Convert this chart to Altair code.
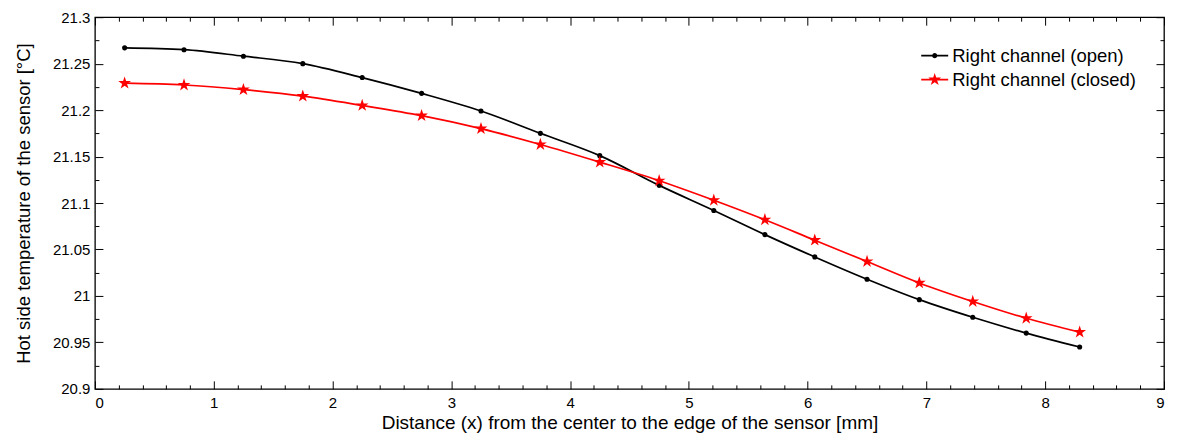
import math
import altair as alt
import pandas as pd

# ---- data ----
x_vals = [0.25, 0.75, 1.25, 1.75, 2.25, 2.75, 3.25, 3.75, 4.25, 4.75,
          5.21, 5.64, 6.06, 6.50, 6.94, 7.39, 7.84, 8.29]
open_vals = [21.267, 21.265, 21.258, 21.250, 21.235, 21.218, 21.199, 21.175, 21.151,
             21.119, 21.092, 21.066, 21.042, 21.018, 20.996, 20.977, 20.960, 20.945]
closed_vals = [21.229, 21.227, 21.222, 21.215, 21.205, 21.194, 21.180, 21.163, 21.144,
               21.124, 21.103, 21.082, 21.060, 21.037, 21.014, 20.994, 20.976, 20.961]
series_names = ["Right channel (open)", "Right channel (closed)"]
series_colors = ["#000000", "#ff0000"]

x_major = [0, 1, 2, 3, 4, 5, 6, 7, 8, 9]
x_minor = [round(i * 0.2, 1) for i in range(46) if i % 5 != 0]
y_major = [20.9, 20.95, 21.0, 21.05, 21.1, 21.15, 21.2, 21.25, 21.3]
y_minor = [20.925, 20.975, 21.025, 21.075, 21.125, 21.175, 21.225, 21.275]

rows = []
for xv, o, c in zip(x_vals, open_vals, closed_vals):
    rows.append({"x": xv, "y": o, "series": series_names[0]})
    rows.append({"x": xv, "y": c, "series": series_names[1]})
df = pd.DataFrame(rows)

FONT = "Liberation Sans"


def star_path(scale):
    pts = []
    for k in range(10):
        r = scale if k % 2 == 0 else scale * 0.382
        a = math.radians(-90 + 36 * k)
        pts.append(f"{r * math.cos(a):.3f},{r * math.sin(a):.3f}")
    return "M" + " L".join(pts) + " Z"


def circle_path(r):
    pts = []
    for k in range(16):
        a = math.radians(-90 + 22.5 * k)
        pts.append(f"{r * math.cos(a):.3f},{r * math.sin(a):.3f}")
    return "M" + " L".join(pts) + " Z"


STAR = star_path(1.0)
BAR = "M-1,-0.06 L1,-0.06 L1,0.06 L-1,0.06 Z"
LEG_OPEN = BAR + " " + circle_path(0.19)
LEG_CLOSED = BAR + " " + star_path(0.5)

xs = alt.Scale(domain=[0, 9], nice=False, zero=False)
ys = alt.Scale(domain=[20.9, 21.3], nice=False, zero=False)
cs = alt.Scale(domain=series_names, range=series_colors)
ss = alt.Scale(domain=series_names, range=[LEG_OPEN, LEG_CLOSED])


def tick_axis(orient, values, size):
    return alt.Axis(orient=orient, values=values, tickSize=size, offset=-size,
                    labels=False, domain=False, title=None, grid=False,
                    ticks=True, tickColor="black", tickWidth=1)


base = alt.Chart(df)
open_df = base.transform_filter(alt.datum.series == series_names[0])
closed_df = base.transform_filter(alt.datum.series == series_names[1])

main_x = alt.Axis(orient="bottom", values=x_major, format="d", ticks=False, domain=False,
                  grid=False, labelFont=FONT, labelFontSize=15, labelColor="black",
                  labelPadding=7, title="Distance (x) from the center to the edge of the sensor [mm]",
                  titleFont=FONT, titleFontSize=19, titleFontWeight="normal",
                  titleColor="black", titlePadding=3)
main_y = alt.Axis(orient="left", values=y_major, format="~g", ticks=False, domain=False,
                  grid=False, labelFont=FONT, labelFontSize=15, labelColor="black",
                  labelPadding=5, title="Hot side temperature of the sensor [°C]",
                  titleFont=FONT, titleFontSize=18.5, titleFontWeight="normal",
                  titleColor="black", titlePadding=19)

line_open = open_df.mark_line(interpolate="monotone", strokeWidth=1.7,
                              color=series_colors[0]).encode(
    x=alt.X("x:Q", scale=xs, axis=main_x),
    y=alt.Y("y:Q", scale=ys, axis=main_y),
)

line_closed = closed_df.mark_line(interpolate="monotone", strokeWidth=1.7,
                                  color=series_colors[1]).encode(
    x=alt.X("x:Q", scale=xs, axis=tick_axis("bottom", x_major, 8)),
    y=alt.Y("y:Q", scale=ys, axis=tick_axis("left", y_major, 8)),
)

open_pts = open_df.mark_point(filled=True, shape="circle", size=26, opacity=1,
                              color=series_colors[0]).encode(
    x=alt.X("x:Q", scale=xs, axis=tick_axis("bottom", x_minor, 4)),
    y=alt.Y("y:Q", scale=ys, axis=tick_axis("left", y_minor, 4)),
)

closed_pts = closed_df.mark_point(filled=True, shape=STAR, size=180, opacity=1,
                                  color=series_colors[1]).encode(
    x=alt.X("x:Q", scale=xs, axis=tick_axis("top", x_major, 8)),
    y=alt.Y("y:Q", scale=ys, axis=tick_axis("right", y_major, 8)),
)

leg = alt.Legend(title=None, orient="none", legendX=827, legendY=25, padding=0,
                 labelFont=FONT, labelFontSize=18.5, labelColor="black", labelOffset=4,
                 labelLimit=400, symbolSize=729, symbolStrokeWidth=0, symbolOpacity=1,
                 rowPadding=1)

legend_layer = base.mark_point(filled=True, opacity=0).encode(
    x=alt.X("x:Q", scale=xs, axis=tick_axis("top", x_minor, 4)),
    y=alt.Y("y:Q", scale=ys, axis=tick_axis("right", y_minor, 4)),
    color=alt.Color("series:N", scale=cs, legend=leg),
    shape=alt.Shape("series:N", scale=ss, legend=leg),
)

chart = alt.layer(line_open, line_closed, open_pts, closed_pts, legend_layer).resolve_axis(
    x="independent", y="independent"
).properties(
    width=1070, height=372,
    autosize=alt.AutoSizeParams(type="none"),
    padding={"left": 87, "top": 9, "right": 5, "bottom": 50},
    background="white",
).configure_view(stroke="black", strokeWidth=1.3)

chart.save("out.html", embed_options={"renderer": "svg", "actions": False})
